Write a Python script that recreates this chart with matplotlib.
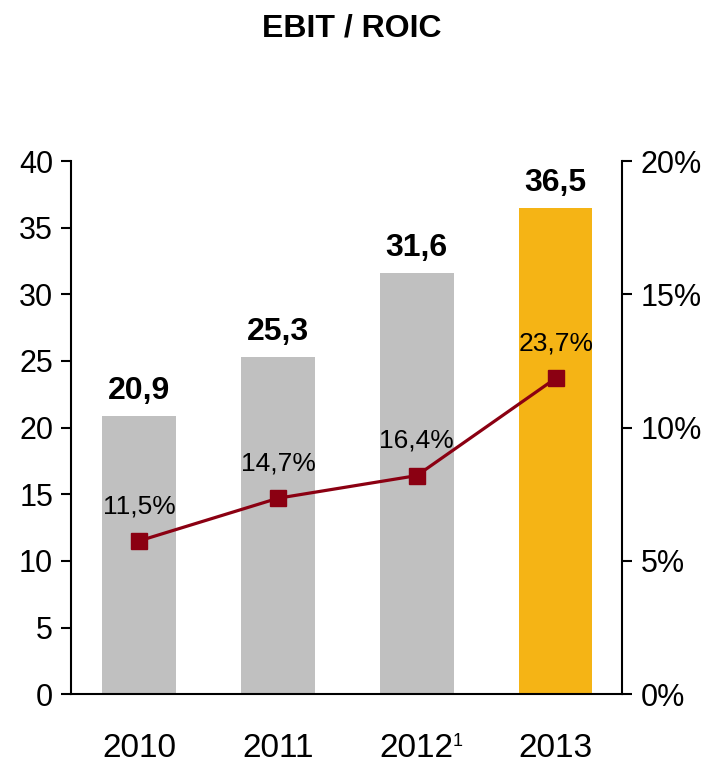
import matplotlib.pyplot as plt
from matplotlib import font_manager

years = ["2010", "2011", "2012", "2013"]
ebit = [20.9, 25.3, 31.6, 36.5]
roic = [11.5, 14.7, 16.4, 23.7]
pct_ticks = [0, 5, 10, 15, 20]

names = {f.name for f in font_manager.fontManager.ttflist}
fam = [n for n in ["Liberation Sans Narrow", "Liberation Sans", "DejaVu Sans"] if n in names]
plt.rcParams["font.family"] = fam

bar_colors = ["#c0c0c0", "#c0c0c0", "#c0c0c0", "#f5b415"]
line_color = "#8b0012"

fig = plt.figure(figsize=(7.04, 7.67), dpi=100)
ax = fig.add_axes([0.101, 0.095, 0.783, 0.695])

x = range(len(years))
ax.bar(x, ebit, width=0.53, color=bar_colors, zorder=1)
for i, v in enumerate(ebit):
    ax.annotate(f"{v:.1f}".replace(".", ","), (i, v), xytext=(0, 18), textcoords="offset points",
                ha="center", va="center", fontsize=23, fontweight="bold")

ax.plot(x, roic, color=line_color, lw=2.3, marker="s", ms=11, zorder=3)
for i, v in enumerate(roic):
    ax.annotate(f"{v:.1f}%".replace(".", ","), (i, v), xytext=(0, 25), textcoords="offset points",
                ha="center", va="center", fontsize=19)

ax.set_xlim(-0.49, 3.48)
ax.set_ylim(0, 40)
ax.set_yticks(range(0, 41, 5))
ax.set_xticks(list(x))
ax.set_xticklabels(years, fontsize=24)
ax.tick_params(axis="x", length=0, pad=28)
ax.tick_params(axis="y", direction="out", length=7, width=1.5, labelsize=22, pad=6)
ax.spines["top"].set_visible(False)
ax.spines["right"].set_visible(False)
for s in ["left", "bottom"]:
    ax.spines[s].set_linewidth(1.5)

# footnote marker on 2012
ax.annotate("1", xy=(2, 0), xycoords=("data", "axes fraction"), xytext=(26, -34),
            textcoords="offset points", ha="left", va="center", fontsize=13)

ax2 = ax.twinx()
ax2.set_ylim(0, 20)
ax2.set_yticks(pct_ticks)
ax2.set_yticklabels([f"{t}%" for t in pct_ticks])
ax2.tick_params(axis="y", direction="out", length=7, width=1.5, labelsize=22, pad=6)
for s in ["top", "left", "bottom"]:
    ax2.spines[s].set_visible(False)
ax2.spines["right"].set_linewidth(1.5)

fig.text(0.5, 0.963, "EBIT / ROIC", ha="center", va="center", fontsize=23, fontweight="bold")

fig.savefig("out.png", dpi=100)
